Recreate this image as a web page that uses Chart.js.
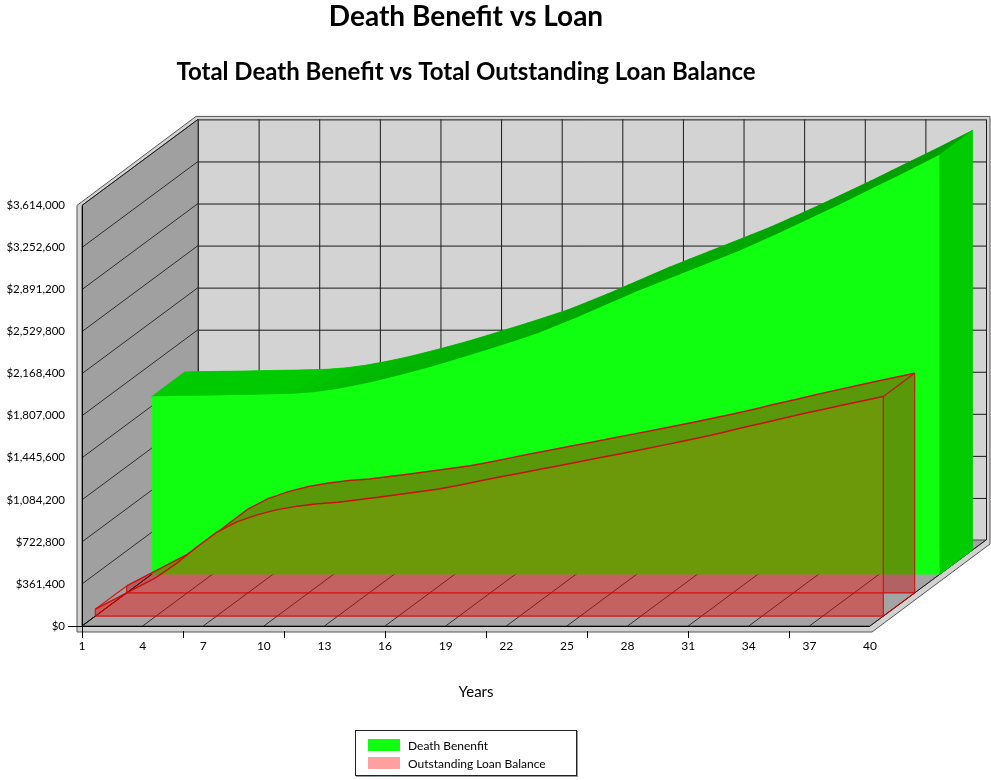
<!DOCTYPE html>
<html>
<head>
<meta charset="utf-8">
<title>Death Benefit vs Loan</title>
<script src="https://cdn.jsdelivr.net/npm/chart.js@4.4.1/dist/chart.umd.min.js"></script>
<style>
    html, body { margin: 0; padding: 0; background: #fff; }
    #wrap { position: relative; width: 991px; height: 780px; }
    #legend {
        position: absolute; left: 355px; top: 730px; width: 220px; height: 44px;
        border: 1px solid #222; box-shadow: 1px 1px 0 #999;
        font: 12px Lato, "Open Sans", sans-serif; color: #000;
    }
    #legend .item { position: absolute; left: 12px; height: 14px; line-height: 14px; white-space: nowrap; }
    #legend .sw { display: inline-block; width: 32px; height: 12px; vertical-align: -1px; margin-right: 8px; }
</style>
</head>
<body>
<div id="wrap">
    <canvas id="chart1"></canvas>
    <div id="legend"></div>
</div>
<script>
const years = ["1", "2", "3", "4", "5", "6", "7", "8", "9", "10",
    "11", "12", "13", "14", "15", "16", "17", "18", "19", "20",
    "21", "22", "23", "24", "25", "26", "27", "28", "29", "30",
    "31", "32", "33", "34", "35", "36", "37", "38", "39", "40"];

const deathBenefit = [1529000, 1532000, 1535000, 1538000, 1541000, 1544000, 1547000, 1552000, 1565000, 1588000,
    1620000, 1657000, 1700000, 1745000, 1793000, 1845000, 1898000, 1952000, 2008000, 2065000,
    2135000, 2205000, 2280000, 2355000, 2430000, 2500000, 2568000, 2636000, 2705000, 2775000,
    2852000, 2930000, 3010000, 3092000, 3175000, 3260000, 3345000, 3430000, 3517000, 3605000];

const loanBalance = [60000, 150000, 240000, 330000, 450000, 590000, 720000, 810000, 870000, 915000,
    945000, 965000, 978000, 1000000, 1022000, 1045000, 1068000, 1092000, 1125000, 1160000,
    1195000, 1228000, 1262000, 1295000, 1328000, 1362000, 1396000, 1430000, 1465000, 1500000,
    1537000, 1576000, 1618000, 1658000, 1698000, 1738000, 1776000, 1814000, 1851000, 1887000];

const seriesNames = ["Death Benenfit", "Outstanding Loan Balance"];
const yMax = 3614000;
const yStep = 361400;

const FONT = "Lato, 'Open Sans', sans-serif";

// fake 3d: depth of the box in px, and how deep each face sits (0 = front, 1 = back wall)
const DX = 116, DY = -86;
const layers = { r1: 0.115, r2: 0.385, g1: 0.6, g2: 0.885 };

const money = (v) => "$" + Number(v).toLocaleString("en-US");

const depthPlugin = {
    id: "depth",
    // push the hidden per-layer scales back into the box
    afterLayout(chart) {
        const a = chart.chartArea;
        Object.keys(layers).forEach((k) => {
            const xs = chart.scales["x" + k];
            const ys = chart.scales["y" + k];
            const dx = layers[k] * DX, dy = layers[k] * DY;
            xs._startPixel = a.left + dx;
            xs._endPixel = a.right + dx;
            xs._length = a.right - a.left;
            ys._startPixel = a.top + dy;
            ys._endPixel = a.bottom + dy;
            ys._length = a.bottom - a.top;
        });
    },
    beforeDatasetsDraw(chart) {
        const ctx = chart.ctx;
        const xs = chart.scales.x, ys = chart.scales.y;
        const { left: L, right: R, top: T, bottom: B } = chart.chartArea;
        const xTicks = years.map((y, i) => i).filter((i) => i % 3 === 0).map((i) => xs.getPixelForValue(i));
        const yTicks = ys.ticks.map((t) => ys.getPixelForValue(t.value));

        ctx.save();
        // slab edges behind the walls
        ctx.fillStyle = "#d2d2d2";
        ctx.strokeStyle = "#555";
        ctx.lineWidth = 1;
        ctx.beginPath();
        ctx.moveTo(L - 5, B + 6);
        ctx.lineTo(L - 5, T);
        ctx.lineTo(L + DX - 2, T + DY - 3);
        ctx.lineTo(R + DX + 4, T + DY - 3);
        ctx.lineTo(R + DX + 4, B + DY + 4);
        ctx.lineTo(R + 2, B + 6);
        ctx.closePath();
        ctx.fill();
        ctx.stroke();

        // back wall
        ctx.fillStyle = "#d3d3d3";
        ctx.fillRect(L + DX, T + DY, R - L, B - T);
        ctx.strokeStyle = "#1a1a1a";
        ctx.beginPath();
        yTicks.forEach((y) => { ctx.moveTo(L + DX, y + DY + 0.5); ctx.lineTo(R + DX, y + DY + 0.5); });
        xTicks.forEach((x) => { ctx.moveTo(x + DX + 0.5, T + DY); ctx.lineTo(x + DX + 0.5, B + DY); });
        ctx.stroke();

        // left wall
        ctx.fillStyle = "#a0a0a0";
        ctx.strokeStyle = "#444";
        ctx.beginPath();
        ctx.moveTo(L, T); ctx.lineTo(L + DX, T + DY); ctx.lineTo(L + DX, B + DY); ctx.lineTo(L, B);
        ctx.closePath();
        ctx.fill();
        ctx.stroke();

        // floor
        ctx.fillStyle = "#a4a4a4";
        ctx.beginPath();
        ctx.moveTo(L, B); ctx.lineTo(R, B); ctx.lineTo(R + DX, B + DY); ctx.lineTo(L + DX, B + DY);
        ctx.closePath();
        ctx.fill();
        ctx.stroke();

        ctx.strokeStyle = "#111";
        ctx.lineWidth = 0.8;
        ctx.beginPath();
        yTicks.forEach((y) => { ctx.moveTo(L, y); ctx.lineTo(L + DX, y + DY); });
        xTicks.forEach((x) => { ctx.moveTo(x, B); ctx.lineTo(x + DX, B + DY); });
        ctx.stroke();

        // axis lines and ticks
        ctx.strokeStyle = "#000";
        ctx.lineWidth = 1;
        ctx.beginPath();
        ctx.moveTo(L + 0.5, T); ctx.lineTo(L + 0.5, B + 12);
        ctx.moveTo(L - 14, B + 0.5); ctx.lineTo(R, B + 0.5);
        years.forEach((y, i) => {
            if (i % 5 === 0) {
                const x = Math.round(xs.getPixelForValue(i)) + 0.5;
                ctx.moveTo(x, B + 5); ctx.lineTo(x, B + 12);
            }
        });
        ctx.stroke();
        ctx.restore();

        // the faces sit partly outside the plot area, so let the fills through
        chart.$savedArea = { ...chart.chartArea };
        Object.assign(chart.chartArea, { left: 0, top: 0, right: chart.width, bottom: chart.height, width: chart.width, height: chart.height });
    },
    afterDatasetDraw(chart, args) {
        const ctx = chart.ctx;
        if (args.index === 3) {
            // top and end faces of the death benefit band
            const fm = chart.getDatasetMeta(2), bm = chart.getDatasetMeta(3);
            const f = fm.data, b = bm.data;
            const n = f.length - 1;
            ctx.save();
            ctx.lineWidth = 0.6;
            for (let i = 0; i < n; i++) {
                const s = Math.max(0, Math.min(0.6, (f[i].y - f[i + 1].y) / (f[i + 1].x - f[i].x)));
                const g = Math.round(204 - 90 * s);
                ctx.fillStyle = ctx.strokeStyle = "rgb(0," + g + ",0)";
                ctx.beginPath();
                ctx.moveTo(f[i].x, f[i].y);
                ctx.lineTo(f[i + 1].x, f[i + 1].y);
                ctx.lineTo(b[i + 1].x, b[i + 1].y);
                ctx.lineTo(b[i].x, b[i].y);
                ctx.closePath();
                ctx.fill();
                ctx.stroke();
            }
            ctx.fillStyle = ctx.strokeStyle = "#00cc00";
            ctx.beginPath();
            ctx.moveTo(f[n].x, f[n].y);
            ctx.lineTo(b[n].x, b[n].y);
            ctx.lineTo(b[n].x, bm.vScale.getBasePixel());
            ctx.lineTo(f[n].x, fm.vScale.getBasePixel());
            ctx.closePath();
            ctx.fill();
            ctx.stroke();
            ctx.restore();
        } else if (args.index === 2) {
            // loan back face must not double up behind the front face
            const m = chart.getDatasetMeta(0);
            const base = m.vScale.getBasePixel();
            const pts = m.data;
            ctx.save();
            ctx.beginPath();
            ctx.rect(0, 0, chart.width, chart.height);
            ctx.moveTo(pts[0].x, base);
            pts.forEach((p) => ctx.lineTo(p.x, p.y));
            ctx.lineTo(pts[pts.length - 1].x, base);
            ctx.closePath();
            ctx.clip("evenodd");
        } else if (args.index === 1) {
            ctx.restore();
        }
    },
    afterDatasetsDraw(chart) {
        if (chart.$savedArea) Object.assign(chart.chartArea, chart.$savedArea);
        const ctx = chart.ctx;
        const f = chart.getDatasetMeta(0), b = chart.getDatasetMeta(1);
        const fb = f.vScale.getBasePixel(), bb = b.vScale.getBasePixel();
        const f0 = f.data[0], fn = f.data[f.data.length - 1];
        const b0 = b.data[0], bn = b.data[b.data.length - 1];
        ctx.save();
        ctx.strokeStyle = "rgba(215, 0, 0, 0.85)";
        ctx.lineWidth = 1.2;
        ctx.beginPath();
        ctx.moveTo(f0.x, f0.y); ctx.lineTo(f0.x, fb); ctx.lineTo(fn.x, fb); ctx.lineTo(fn.x, fn.y);
        ctx.moveTo(b0.x, b0.y); ctx.lineTo(b0.x, bb); ctx.lineTo(bn.x, bb); ctx.lineTo(bn.x, bn.y);
        ctx.moveTo(f0.x, f0.y); ctx.lineTo(b0.x, b0.y);
        ctx.moveTo(fn.x, fn.y); ctx.lineTo(bn.x, bn.y);
        ctx.moveTo(f0.x, fb); ctx.lineTo(b0.x, bb);
        ctx.moveTo(fn.x, fb); ctx.lineTo(bn.x, bb);
        ctx.stroke();
        ctx.restore();
    },
};

const scales = {
    x: {
        type: "category",
        grid: { display: false, drawTicks: false },
        border: { display: false },
        ticks: {
            autoSkip: false,
            maxRotation: 0,
            padding: 13,
            color: "#000",
            font: { family: FONT, size: 12 },
            callback: function (val, i) {
                return i % 3 === 0 ? this.getLabelForValue(val) : null;
            },
        },
        title: {
            display: true,
            text: "Years",
            color: "#000",
            font: { family: FONT, size: 15 },
            padding: { top: 0, bottom: 4 },
        },
        afterFit: (s) => { s.height = 79; },
    },
    y: {
        type: "linear",
        min: 0,
        max: yMax,
        grid: { display: false, drawTicks: false },
        border: { display: false },
        ticks: {
            stepSize: yStep,
            padding: 17,
            color: "#000",
            font: { family: FONT, size: 11.5 },
            callback: (v) => money(v),
        },
        afterFit: (s) => { s.width = 82; },
    },
    yR: {
        position: "right",
        grid: { display: false },
        border: { display: false },
        ticks: { display: false },
        afterFit: (s) => { s.width = 62; },
    },
};
Object.keys(layers).forEach((k) => {
    scales["x" + k] = { type: "category", display: false };
    scales["y" + k] = { type: "linear", display: false, min: 0, max: yMax };
});

const face = (data, layer, fillColor, lineColor, lineWidth) => ({
    data: data,
    xAxisID: "x" + layer,
    yAxisID: "y" + layer,
    fill: "origin",
    backgroundColor: fillColor,
    borderColor: lineColor,
    borderWidth: lineWidth,
    pointRadius: 0,
    tension: 0,
    clip: false,
});

const ctx = document.getElementById("chart1").getContext("2d");
const chart = new Chart(ctx, {
    type: "line",
    data: {
        labels: years,
        datasets: [
            { label: seriesNames[1], ...face(loanBalance, "r1", "rgba(245, 0, 0, 0.4)", "rgba(215, 0, 0, 0.9)", 1.5) },
            { label: seriesNames[1], ...face(loanBalance, "r2", "rgba(200, 0, 0, 0.4)", "rgba(215, 0, 0, 0.9)", 1.5) },
            { label: seriesNames[0], ...face(deathBenefit, "g1", "#10ff10", "#10ff10", 0) },
            { label: seriesNames[0], ...face(deathBenefit, "g2", "#00cc00", "#00cc00", 0) },
        ],
    },
    options: {
        responsive: true,
        maintainAspectRatio: false,
        animation: false,
        layout: { padding: { left: 0, right: 59, top: 0, bottom: 75 } },
        scales: scales,
        plugins: {
            legend: { display: false },
            tooltip: { enabled: false },
            title: {
                display: true,
                text: "Death Benefit vs Loan",
                color: "#000",
                font: { family: FONT, size: 28, weight: "bold" },
                padding: { top: 0, bottom: 24 },
            },
            subtitle: {
                display: true,
                text: "Total Death Benefit vs Total Outstanding Loan Balance",
                color: "#000",
                font: { family: FONT, size: 24, weight: "bold" },
                padding: { top: 0, bottom: 119 },
            },
        },
    },
    plugins: [depthPlugin],
});

// legend box
const legendColors = ["#10ff10", "#ffa0a0"];
const $legend = document.querySelector("#legend");
seriesNames.forEach((name, i) => {
    const $item = document.createElement("div");
    $item.className = "item";
    $item.style.top = (8 + i * 18) + "px";
    const $sw = document.createElement("span");
    $sw.className = "sw";
    $sw.style.background = legendColors[i];
    $item.appendChild($sw);
    $item.appendChild(document.createTextNode(name));
    $legend.appendChild($item);
});
</script>
</body>
</html>
